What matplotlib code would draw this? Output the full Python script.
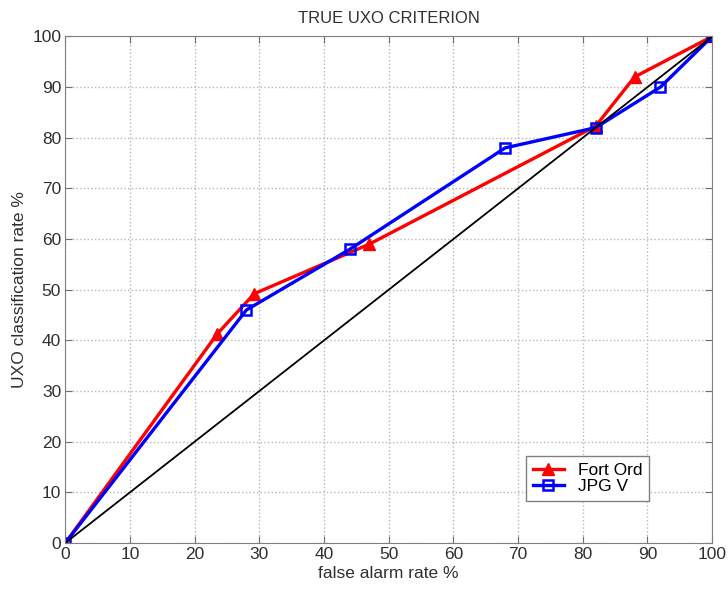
import matplotlib
matplotlib.use("Agg")
import matplotlib.pyplot as plt

plt.rcParams['font.family'] = ['Liberation Sans', 'DejaVu Sans']

# ROC style curves for the two sites
fort_ord_x = [0, 23.5, 29.2, 47, 82, 88, 100]
fort_ord_y = [0, 41.3, 49.2, 59, 82.3, 92, 100]
jpg_x = [0, 28, 44, 68, 82, 92, 100]
jpg_y = [0, 46, 58, 78, 82, 90, 100]
chance = [0, 100]
ticks = list(range(0, 101, 10))

fig = plt.figure(figsize=(7.28, 5.90), dpi=100)
ax = fig.add_axes([0.0897, 0.0797, 0.8885, 0.8585])

ax.plot(fort_ord_x, fort_ord_y, color='#ff0000', lw=2.4, marker='^',
        ms=8, mfc='#ff0000', mec='#ff0000', label='Fort Ord')
ax.plot(jpg_x, jpg_y, color='#0000ff', lw=2.4, marker='s',
        ms=7, mfc='none', mec='#0000ff', mew=1.8, label='JPG V')
ax.plot(chance, chance, color='black', lw=1.3)

ax.set_xlim(0, 100)
ax.set_ylim(0, 100)
ax.set_xticks(ticks)
ax.set_yticks(ticks)
ax.tick_params(direction='in', top=True, right=True, labelsize=12.5,
               color='#707070', length=5, labelcolor='#303030', pad=3)
ax.grid(True, linestyle=':', color='#b8b8b8', lw=1)
for s in ax.spines.values():
    s.set_color('#808080')

ax.set_title('TRUE UXO CRITERION', fontsize=12, color='#303030', pad=10)
ax.set_xlabel('false alarm rate %', fontsize=12.5, color='#303030', labelpad=3)
ax.set_ylabel('UXO classification rate %', fontsize=12.5, color='#303030', labelpad=4)

leg = ax.legend(loc='lower left', bbox_to_anchor=(0.712, 0.083), fontsize=12.5,
                fancybox=False, framealpha=1, edgecolor='#808080',
                borderpad=0.4, handlelength=1.8, labelspacing=0.05,
                borderaxespad=0)
leg.get_frame().set_linewidth(1)

fig.savefig('out.png', dpi=100)
